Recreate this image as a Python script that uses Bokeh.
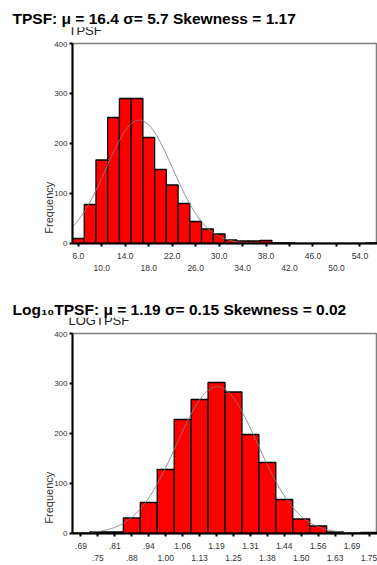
import math
import numpy as np
from bokeh.plotting import figure
from bokeh.models import Range1d, FixedTicker, LinearAxis, Label
from bokeh.layouts import column
from bokeh.embed import file_html
from bokeh.resources import INLINE

# ---------------- data ----------------
tpsf_title = "TPSF: \u03bc = 16.4 \u03c3= 5.7 Skewness = 1.17"
tpsf_subtitle = "TPSF"
tpsf_centers = [6, 8, 10, 12, 14, 16, 18, 20, 22, 24, 26, 28, 30, 32, 34, 36,
                38, 40, 42, 44, 46, 48, 50, 52, 54, 56]
tpsf_counts = [10, 78, 167, 252, 290, 290, 212, 148, 117, 80, 44, 29, 19, 7, 5, 5,
               6, 1, 1, 0, 0, 0, 0, 0, 0, 1]
tpsf_bin_width = 2.0
tpsf_mean = 16.4
tpsf_sd = 5.7
tpsf_tick_values = [6, 10, 14, 18, 22, 26, 30, 34, 38, 42, 46, 50, 54]
tpsf_tick_labels = ["6.0", "10.0", "14.0", "18.0", "22.0", "26.0", "30.0", "34.0",
                    "38.0", "42.0", "46.0", "50.0", "54.0"]

log_title = "Log\u2081\u2080TPSF: \u03bc = 1.19 \u03c3= 0.15 Skewness = 0.02"
log_subtitle = "LOGTPSF"
log_centers = [0.6875, 0.75, 0.8125, 0.875, 0.9375, 1.0, 1.0625, 1.125, 1.1875,
               1.25, 1.3125, 1.375, 1.4375, 1.5, 1.5625, 1.625, 1.6875, 1.75]
log_counts = [1, 3, 3, 31, 62, 128, 228, 268, 302, 283, 198, 142, 68, 29, 15, 3, 1, 2]
log_bin_width = 0.0625
log_mean = 1.19
log_sd = 0.15
log_tick_values = log_centers
log_tick_labels = [".69", ".75", ".81", ".88", ".94", "1.00", "1.06", "1.13", "1.19",
                   "1.25", "1.31", "1.38", "1.44", "1.50", "1.56", "1.63", "1.69", "1.75"]

freq_ticks = [0, 100, 200, 300, 400]
freq_label = "Frequency"

FONT = "Liberation Sans"
W = 377


def make_header(title, subtitle, height, title_y, sub_y):
    h = figure(width=W, height=height, x_range=Range1d(0, 1), y_range=Range1d(0, 1),
               x_axis_location=None, y_axis_location=None,
               min_border_left=0, min_border_right=0, min_border_top=0, min_border_bottom=0,
               toolbar_location=None, output_backend="svg")
    if "frame_align" in h.properties():
        h.frame_align = False
    h.xgrid.visible = False
    h.ygrid.visible = False
    h.outline_line_color = None
    h.background_fill_color = "white"
    h.border_fill_color = "white"
    # subtitle first, then the title with a white box that hides its upper part
    h.add_layout(Label(x=68, y=sub_y, x_units="screen", y_units="screen", text=subtitle,
                       text_font=FONT, text_font_size="13px", text_color="#222222",
                       text_align="left", text_baseline="alphabetic"))
    h.add_layout(Label(x=12, y=title_y, x_units="screen", y_units="screen", text=title,
                       text_font=FONT, text_font_size="15.5px", text_font_style="bold",
                       text_color="black", text_align="left", text_baseline="alphabetic",
                       background_fill_color="white", background_fill_alpha=1.0))
    return h


def make_hist(centers, counts, bw, mean, sd, tvals, tlabels, border_top, border_bottom):
    xmin = centers[0] - bw / 2
    xmax = centers[-1] + bw / 2
    p = figure(width=W, height=border_top + 200 + border_bottom,
               x_range=Range1d(xmin, xmax), y_range=Range1d(0, 400),
               min_border_left=72, min_border_right=0,
               min_border_top=border_top, min_border_bottom=border_bottom,
               toolbar_location=None, output_backend="svg")
    p.xgrid.visible = False
    p.ygrid.visible = False
    p.outline_line_color = "#808080"
    p.outline_line_width = 1.5
    p.background_fill_color = "white"
    p.border_fill_color = "white"

    p.vbar(x=centers, width=bw, top=counts, bottom=0,
           fill_color="#FF0000", line_color="black", line_width=1.3)

    n = sum(counts)
    xs = np.linspace(xmin, xmax, 400)
    ys = n * bw / (sd * math.sqrt(2 * math.pi)) * np.exp(-0.5 * ((xs - mean) / sd) ** 2)
    p.line(xs, ys, line_color="#808080", line_width=0.9)

    # y axis
    ya = p.yaxis[0]
    ya.ticker = FixedTicker(ticks=freq_ticks)
    ya.major_tick_out = 3
    ya.major_tick_in = 0
    ya.major_tick_line_width = 2
    ya.major_tick_line_color = "black"
    ya.minor_tick_line_color = None
    ya.axis_line_width = 2
    ya.axis_line_color = "black"
    ya.major_label_text_font = FONT
    ya.major_label_text_font_size = "8px"
    ya.major_label_text_color = "#333333"
    ya.major_label_standoff = 2
    # padded with non-breaking spaces so the word sits low, as in the original
    ya.axis_label = freq_label + "\u00a0" * 42
    ya.axis_label_text_font = FONT
    ya.axis_label_text_font_size = "11px"
    ya.axis_label_text_font_style = "normal"
    ya.axis_label_text_color = "#333333"
    ya.axis_label_standoff = -4

    # x axis row 1
    xa = p.xaxis[0]
    xa.ticker = FixedTicker(ticks=tvals)
    xa.major_label_overrides = {float(v): (l if i % 2 == 0 else "")
                                for i, (v, l) in enumerate(zip(tvals, tlabels))}
    xa.major_tick_out = 3
    xa.major_tick_in = 0
    xa.major_tick_line_width = 2
    xa.major_tick_line_color = "black"
    xa.minor_tick_line_color = None
    xa.axis_line_width = 2
    xa.axis_line_color = "black"
    xa.major_label_text_font = FONT
    xa.major_label_text_font_size = "8.5px"
    xa.major_label_text_color = "#333333"
    xa.major_label_standoff = 6

    # x axis row 2
    odd_vals = [v for i, v in enumerate(tvals) if i % 2 == 1]
    xb = LinearAxis(ticker=FixedTicker(ticks=odd_vals))
    xb.major_label_overrides = {float(v): l for i, (v, l) in enumerate(zip(tvals, tlabels))
                                if i % 2 == 1}
    xb.axis_line_color = None
    xb.major_tick_line_color = None
    xb.minor_tick_line_color = None
    xb.major_tick_out = 0
    xb.major_tick_in = 0
    xb.major_label_text_font = FONT
    xb.major_label_text_font_size = "8.5px"
    xb.major_label_text_color = "#333333"
    xb.major_label_standoff = 3
    p.add_layout(xb, "below")
    return p


h1 = make_header(tpsf_title, tpsf_subtitle, 41, 22.8, 11.5)
p1 = make_hist(tpsf_centers, tpsf_counts, tpsf_bin_width, tpsf_mean, tpsf_sd,
               tpsf_tick_values, tpsf_tick_labels, 2, 47)
h2 = make_header(log_title, log_subtitle, 41, 22.2, 10.9)
p2 = make_hist(log_centers, log_counts, log_bin_width, log_mean, log_sd,
               log_tick_values, log_tick_labels, 2, 30)

page = column(h1, p1, h2, p2, spacing=0)
open("out.html", "w").write(file_html(page, INLINE))
